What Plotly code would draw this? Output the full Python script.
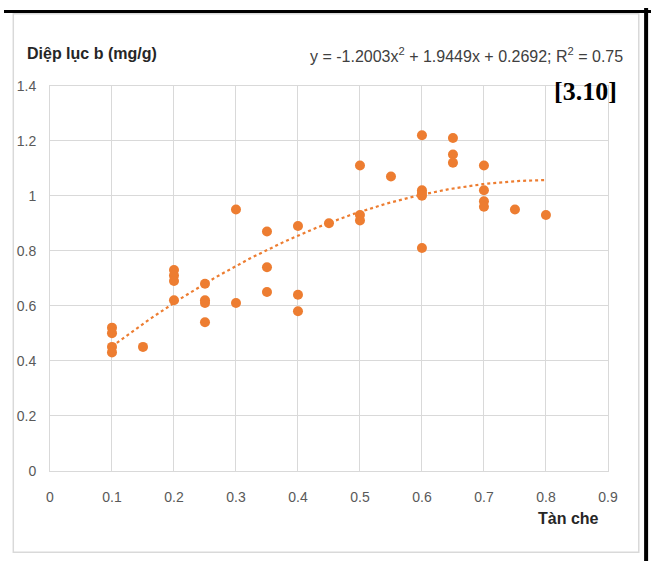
import numpy as np
import plotly.graph_objects as go

# ---- data ----
tan_che = [0.1, 0.1, 0.1, 0.1, 0.15,
           0.2, 0.2, 0.2, 0.2,
           0.25, 0.25, 0.25, 0.25,
           0.3, 0.3,
           0.35, 0.35, 0.35,
           0.4, 0.4, 0.4,
           0.45,
           0.5, 0.5, 0.5,
           0.55,
           0.6, 0.6, 0.6, 0.6, 0.6,
           0.65, 0.65, 0.65,
           0.7, 0.7, 0.7, 0.7,
           0.75, 0.8]
diep_luc_b = [0.52, 0.50, 0.45, 0.43, 0.45,
              0.73, 0.71, 0.69, 0.62,
              0.68, 0.62, 0.61, 0.54,
              0.95, 0.61,
              0.87, 0.74, 0.65,
              0.89, 0.64, 0.58,
              0.90,
              1.11, 0.93, 0.91,
              1.07,
              1.22, 1.02, 1.01, 1.00, 0.81,
              1.21, 1.15, 1.12,
              1.11, 1.02, 0.98, 0.96,
              0.95, 0.93]

# trendline coefficients (as printed on the chart)
trend_coef = [-1.2003, 1.9449, 0.2692]
trend_x_range = [0.1, 0.8]

x_ticks = [0, 0.1, 0.2, 0.3, 0.4, 0.5, 0.6, 0.7, 0.8, 0.9]
x_tick_labels = ["0", "0.1", "0.2", "0.3", "0.4", "0.5", "0.6", "0.7", "0.8", "0.9"]
y_ticks = [0, 0.2, 0.4, 0.6, 0.8, 1.0, 1.2, 1.4]
y_tick_labels = ["0", "0.2", "0.4", "0.6", "0.8", "1", "1.2", "1.4"]

y_title = "Diệp lục b (mg/g)"
x_title = "Tàn che"
equation = "y = -1.2003x<sup>2</sup> + 1.9449x + 0.2692; R<sup>2</sup> = 0.75"
ref_label = "[3.10]"

# ---- figure ----
W, H = 661, 569
ORANGE = "#ED7D31"
GRID = "#d9d9d9"
FONT = "Liberation Sans Narrow, Liberation Sans, Arial, sans-serif"

def px(x):
    return x / W

def py(y):
    return 1 - y / H

tx = np.linspace(trend_x_range[0], trend_x_range[1], 200)
ty = np.polyval(trend_coef, tx)

fig = go.Figure()
fig.add_trace(go.Scatter(
    x=tx, y=ty, mode="lines",
    line=dict(color=ORANGE, width=2.2, dash="dot"),
    hoverinfo="skip", showlegend=False))
fig.add_trace(go.Scatter(
    x=tan_che, y=diep_luc_b, mode="markers",
    marker=dict(color=ORANGE, size=10, line=dict(width=0)),
    showlegend=False))

axis_common = dict(
    showgrid=True, gridcolor=GRID, gridwidth=1,
    zeroline=False, showline=True, linecolor=GRID, linewidth=1, mirror=True,
    tickfont=dict(family=FONT, size=14, color="#595959"),
    ticks="outside", tickcolor="rgba(0,0,0,0)",
)

fig.update_layout(
    autosize=True,
    margin=dict(l=0, r=0, t=0, b=0),
    paper_bgcolor="white", plot_bgcolor="white",
    xaxis=dict(range=[0, 0.9], tickvals=x_ticks, ticktext=x_tick_labels,
               domain=[px(47), px(617)], ticklen=14, **axis_common),
    yaxis=dict(range=[0, 1.4], tickvals=y_ticks, ticktext=y_tick_labels,
               domain=[py(476), py(80)], ticklen=10, **axis_common),
    font=dict(family=FONT),
)

annos = [
    dict(text="<b>" + y_title + "</b>", x=px(21), y=py(47), xanchor="left", yanchor="middle",
         font=dict(family=FONT, size=16, color="#262626")),
    dict(text=equation, x=px(634), y=py(48), xanchor="right", yanchor="middle",
         font=dict(family=FONT, size=16, color="#404040")),
    dict(text="<b>" + ref_label + "</b>", x=px(628), y=py(86), xanchor="right", yanchor="middle",
         font=dict(family="Liberation Serif, Times New Roman, serif", size=26, color="black")),
    dict(text="<b>" + x_title + "</b>", x=px(577), y=py(525), xanchor="center", yanchor="middle",
         font=dict(family=FONT, size=16, color="#262626")),
]
for a in annos:
    fig.add_annotation(xref="paper", yref="paper", showarrow=False, **a)

# outer chart frame (grey) and black edges
fig.add_shape(type="rect", xref="paper", yref="paper",
              x0=px(9.5), x1=px(648.5), y0=py(560), y1=py(6),
              line=dict(color=GRID, width=1.5), fillcolor="rgba(0,0,0,0)", layer="below")
fig.add_shape(type="line", xref="paper", yref="paper",
              x0=0, x1=1, y0=py(3.5), y1=py(3.5),
              line=dict(color="black", width=3))
fig.add_shape(type="line", xref="paper", yref="paper",
              x0=px(656), x1=px(656), y0=0, y1=1,
              line=dict(color="black", width=4))

fig.write_html("out.html",
               default_width="100vw;position:fixed;left:0;top:0",
               default_height="100vh",
               config={"displayModeBar": False})
